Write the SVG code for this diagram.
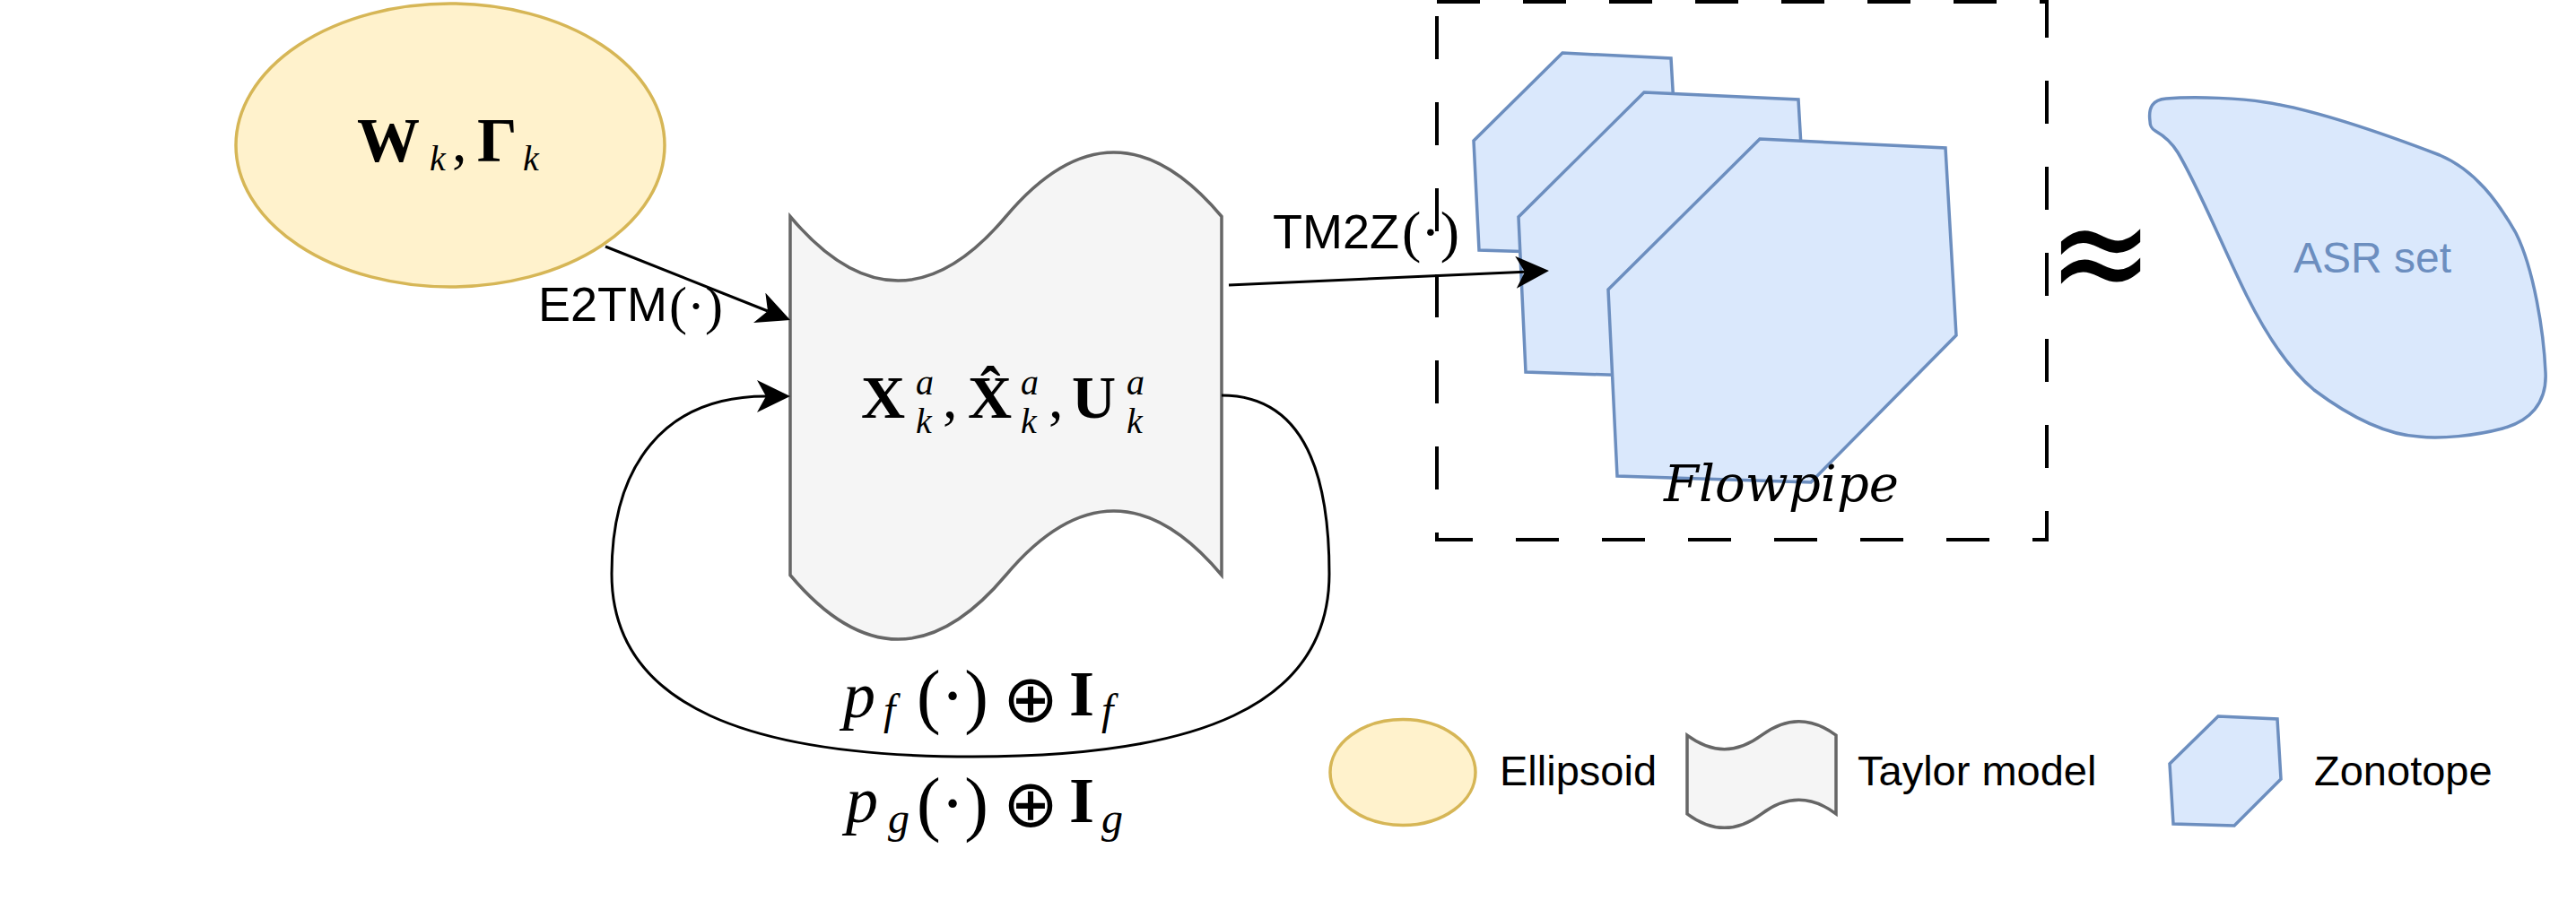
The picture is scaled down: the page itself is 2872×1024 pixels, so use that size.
<svg xmlns="http://www.w3.org/2000/svg" width="2872" height="1024" viewBox="0 0 2872 1024">
<style>
.ell{fill:#fff2cc;stroke:#d6b656;stroke-width:3.5}
.tape{fill:#f5f5f5;stroke:#666666;stroke-width:3.5}
.zono{fill:#dae8fc;stroke:#6c8ebf;stroke-width:3.5}
.edge{fill:none;stroke:#000;stroke-width:3}
.box{fill:none;stroke:#000;stroke-width:4;stroke-dasharray:48 48}
.sans{font-family:"Liberation Sans",Arial,Helvetica,sans-serif;fill:#000}
.math{font-family:"Liberation Serif","Times New Roman",serif;fill:#000}
.dv{font-family:"DejaVu Serif",serif;fill:#000}
.sym{font-family:"DejaVu Sans",sans-serif;fill:#000}
.oplus{font-family:"DejaVu Sans ExtraLight","DejaVu Sans",sans-serif;font-weight:200;fill:#000}
.b{font-weight:bold}
.i{font-style:italic}
</style>
<defs>
<marker id="arr" markerUnits="userSpaceOnUse" markerWidth="37" markerHeight="36" viewBox="0 0 37 36" refX="10" refY="18" orient="auto">
<path d="M0,0 L37,18 L0,36 L10,18 Z" fill="#000"/>
</marker>
</defs>
<rect width="2872" height="1024" fill="#fff"/>

<g id="ellipsoid">
<ellipse class="ell" cx="502" cy="162" rx="239" ry="158"/>
<text class="math">
<tspan class="b" font-size="70" x="398" y="180">W</tspan><tspan class="i" font-size="40" x="479" y="190">k</tspan><tspan font-size="66" x="504" y="180">,</tspan><tspan class="b" font-size="70" x="532" y="180">Γ</tspan><tspan class="i" font-size="40" x="583" y="190">k</tspan>
</text>
</g>

<g id="taylor-model">
<path class="tape" d="M881,241.5 Q1001.25,384.6 1121.5,241.5 Q1241.75,98.4 1362,241.5 L1362,641.5 Q1241.75,498.4 1121.5,641.5 Q1001.25,784.6 881,641.5 Z"/>
<text class="math">
<tspan class="b" font-size="68" x="960" y="466">X</tspan><tspan class="i" font-size="40" x="1021" y="440">a</tspan><tspan class="i" font-size="40" x="1021" y="483">k</tspan><tspan font-size="66" x="1051" y="466">,</tspan><tspan class="b" font-size="68" x="1079" y="466">X̂</tspan><tspan class="i" font-size="40" x="1138" y="440">a</tspan><tspan class="i" font-size="40" x="1138" y="483">k</tspan><tspan font-size="66" x="1169" y="466">,</tspan><tspan class="b" font-size="68" x="1195" y="466">U</tspan><tspan class="i" font-size="40" x="1256" y="440">a</tspan><tspan class="i" font-size="40" x="1256" y="483">k</tspan>
</text>
</g>

<g id="flowpipe-box">
<rect class="box" x="1602" y="2" width="680" height="600"/>
</g>

<g id="zonotope-1"><polygon class="zono" points="1742,59 1863,65 1870,187 1775,283 1649,279 1643,157"/></g>
<g id="zonotope-2"><polygon class="zono" points="1833,103 2005,111 2015,285 1880,421 1701,415 1693,242"/></g>
<g id="zonotope-3"><polygon class="zono" points="1962,155 2169,165 2181,374 2019,538 1803,531 1793,323"/></g>
<g id="flowpipe-label">
<text class="dv i" font-size="56" x="1855" y="559" textLength="262" lengthAdjust="spacing">Flowpipe</text>
</g>

<g id="approx">
<text class="sym" font-size="141" x="0" y="46" text-anchor="middle" transform="translate(2342,284) scale(1,1.2)">≈</text>
</g>

<g id="asr-set">
<path class="zono" d="M2397,135 C2395,120 2400,111 2415,110 C2450,107 2500,110 2525,114 C2580,122 2660,150 2720,173 C2760,190 2785,225 2805,260 C2825,300 2836,370 2838,415 C2840,450 2820,470 2790,478 C2760,486 2720,490 2697,487 C2660,485 2620,465 2580,435 C2550,410 2525,370 2505,330 C2480,280 2452,210 2428,170 C2420,157 2410,150 2403,146 C2398,143 2397,140 2397,135 Z"/>
<text class="sans" font-size="48" x="2645" y="304" text-anchor="middle" style="fill:#6c8ebf">ASR set</text>
</g>

<g id="legend-ellipsoid">
<ellipse class="ell" cx="1564" cy="861.5" rx="81" ry="59"/>
<text class="sans" font-size="47" x="1672" y="876">Ellipsoid</text>
</g>
<g id="legend-taylor">
<path class="tape" d="M1881,820.2 Q1922.5,851.2 1964,820.2 Q2005.5,789.2 2047,820.2 L2047,907.8 Q2005.5,876.8 1964,907.8 Q1922.5,938.8 1881,907.8 Z"/>
<text class="sans" font-size="47" x="2071" y="876">Taylor model</text>
</g>
<g id="legend-zonotope">
<polygon class="zono" points="2473,799 2539,802 2543,869 2491,921 2423,919 2419,852"/>
<text class="sans" font-size="47" x="2580" y="876">Zonotope</text>
</g>

<g id="connectors">
<path class="edge" d="M675,275 L856,347" marker-end="url(#arr)"/>
<path class="edge" d="M1370,318 L1700,303.2" marker-end="url(#arr)"/>
<path class="edge" d="M1362,441 C1460,441 1482,540 1482,640 C1482,790 1330,844 1085,844 C840,844 682,790 682,640 C682,520 740,442 854,442" marker-end="url(#arr)"/>
</g>

<g id="edge-labels">
<text class="sans" font-size="54" x="600" y="358">E2TM<tspan class="math" font-size="60" x="746" y="361">(·)</tspan></text>
<text class="sans" font-size="54" x="1419" y="277">TM2Z<tspan class="math" font-size="64" x="1563" y="280">(·)</tspan></text>

<text class="math"><tspan class="i" font-size="72" x="940" y="800">p</tspan><tspan class="i" font-size="48" x="985" y="808">f</tspan><tspan font-size="80" x="1022" y="803">(·)</tspan><tspan class="oplus" font-size="74" x="1118" y="805">⊕</tspan><tspan class="b" font-size="72" x="1192" y="798">I</tspan><tspan class="i" font-size="48" x="1228" y="808">f</tspan></text>

<text class="math"><tspan class="i" font-size="72" x="943" y="917">p</tspan><tspan class="i" font-size="48" x="990" y="929">g</tspan><tspan font-size="80" x="1022" y="923">(·)</tspan><tspan class="oplus" font-size="74" x="1118" y="922">⊕</tspan><tspan class="b" font-size="72" x="1192" y="917">I</tspan><tspan class="i" font-size="48" x="1228" y="929">g</tspan></text>
</g>
</svg>
